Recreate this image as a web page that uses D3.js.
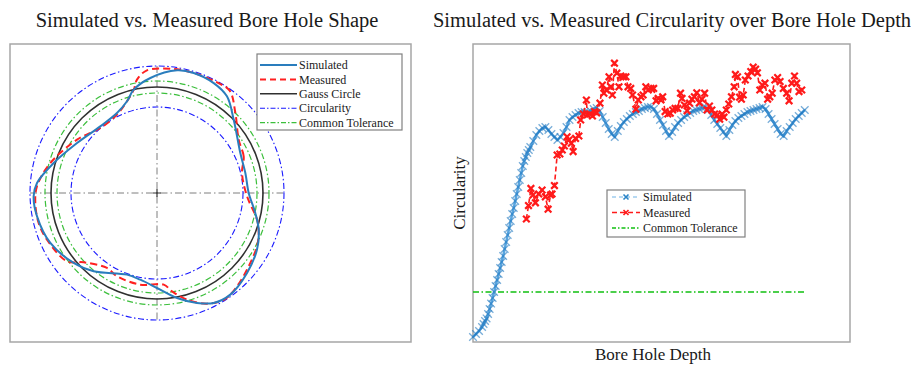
<!DOCTYPE html>
<html>
<head>
<meta charset="utf-8">
<script src="https://cdn.jsdelivr.net/npm/d3@7"></script>
<style>
  body { margin: 0; background: #fff; }
  text { font-family: "Liberation Serif", "Times New Roman", serif; fill: #1a1a1a; }
</style>
</head>
<body>
<svg id="chart" width="911" height="365"></svg>
<script>
// ---- bore hole shape (polar profile, angle in deg ccw from +x) ----
const simAngles = [0, 12.8, 25.6, 43.7, 54.1, 62.7, 73, 80.7, 93.3, 102.7, 108.1, 116.6, 130.4, 148, 163.8, 175.2,
  181.5, 191, 205.1, 220, 231, 249.8, 259.1, 270, 280.8, 290, 297.3, 305.8, 318.4, 330.5, 340.2, 348.5];
const simRadii = [91.7, 90.6, 92.4, 106.1, 119.3, 123.7, 125.5, 124.3, 115.2, 105.9, 96.5, 89.4, 87.5, 94.3, 107.6, 120.4,
  123.4, 122.2, 117.8, 108.8, 100.7, 87, 88.3, 95, 106.9, 117, 123.7, 125.3, 120.4, 114.9, 108.1, 100.3];
const measAngles = [13.2, 22.9, 33.1, 45.6, 54.6, 61.7, 73, 82.3, 94.7, 100, 102.7, 108.1, 117, 131, 146.3, 164.3,
  176.8, 184.7, 194.2, 203, 217.2, 223.4, 236.3, 244.4, 259.7, 274.2, 278.7, 285.7, 294.3, 302.9, 310.6, 321.3,
  331.9, 338.5, 345.1, 357.9];
const measRadii = [87.3, 94.1, 97.5, 112, 125.5, 125.8, 125.5, 125.1, 123.1, 115.1, 105.9, 96.5, 88, 86.2, 96.1, 110.8,
  120.2, 122.1, 122.1, 119.5, 113, 100.9, 90.1, 92.4, 93.2, 91.9, 99.5, 110.8, 121.4, 126, 122.9, 117.4,
  113.3, 109.3, 103.5, 90.1];
const gaussRadius = 106;
const circularityRadii = [86, 127];
const toleranceRadii = [100, 112];
const shapeLegend = ["Simulated", "Measured", "Gauss Circle", "Circularity", "Common Tolerance"];

// ---- circularity over bore hole depth ----
const simDepth = [0, 1, 2, 3, 3.5, 4, 4.5, 5, 5.5, 6, 6.5, 7, 7.5, 8, 8.5, 9, 9.5, 10, 10.5, 11, 11.5,
  12, 12.5, 13, 13.5, 14, 14.5, 15, 15.5, 16, 16.5, 17, 17.5, 18, 18.5, 19, 20, 21, 22, 23, 24,
  25, 26, 27, 28, 29, 30, 31, 32, 33, 34, 35, 36, 37, 38, 39, 40, 41, 42, 43, 44, 45, 46, 47, 48,
  49, 50, 51, 52, 53, 54, 55, 56, 57, 58, 59, 60, 61, 62, 63, 64, 65, 66, 67, 68, 69, 70, 71, 72,
  73, 74, 75, 76, 77, 78, 79, 80, 81, 82, 83, 84, 85, 86, 87, 88, 89, 90, 91, 92, 93, 94, 95, 96,
  97, 98, 99, 100, 101, 102, 103, 104, 105, 106, 107, 108, 109, 110];
const simCirc = [1.25, 2, 2.75, 3.75, 4.5, 5.25, 5.9, 7, 8.25, 9.6, 11, 12.5, 14, 15.5, 17, 18.5, 20, 21.5, 23.25, 25, 26.75,
  28.5, 30.25, 32, 33.5, 35.25, 37, 38.75, 40.5, 42.25, 44, 45.25, 46.25, 47.25, 48, 48.75, 50.25, 51.75, 52.75, 53.5, 53.75,
  53, 52, 51.25, 50.5, 51.25, 52.25, 53.75, 55.5, 56.25, 56.75, 57.25, 57.5, 57.5, 57.5, 57.75, 58.25, 58.5, 57.75, 56.25, 54.75, 53.25, 52, 51.25, 52.75,
  54, 55, 55.75, 56.5, 57, 57.5, 57.75, 58.25, 58.5, 58.75, 58.75, 58.25, 57, 55.5, 54.25, 52.75, 51.5, 52.5, 53.75, 54.75, 55.5, 56.25, 56.75, 57.25,
  57.75, 58, 58.25, 58.5, 58.75, 58, 56.75, 55.5, 54.5, 53.5, 52.5, 51.5, 53, 54.25, 55.25, 56, 56.5, 57, 57.5, 57.75, 58, 58.25, 58.5,
  58.75, 58.25, 57, 55.75, 54.5, 53.25, 52, 51.5, 52.75, 53.75, 54.75, 55.75, 56.5, 57.25, 58];
const measDepth = [17.7, 18.4, 19.2, 19.9, 20.7, 21.8, 22.9, 24, 24.9, 25.7, 26.2, 27, 27.9, 28.8, 29.6, 30.3,
  31.2, 31.8, 32.6, 33.2, 34, 35.1, 35.7, 36.6, 37.6, 37.9, 38.8, 39.6, 40.3, 41, 42.1, 42.9,
  43.4, 44.2, 45.1, 45.7, 46.2, 46.9, 47.7, 48.4, 49, 49.9, 50.7, 51.4, 52.3, 52.9, 54, 54.8,
  55.7, 56.4, 57.3, 58.1, 59, 59.9, 60.7, 61.4, 62.3, 62.9, 63.7, 64.6, 65.4, 66.2, 67, 67.9,
  68.8, 69.3, 70.1, 71, 71.8, 72.6, 73.4, 74.2, 75.1, 75.9, 76.8, 77.6, 78.4, 79.2, 80.1, 81,
  81.8, 82.6, 83.2, 84, 84.8, 85.7, 86.6, 87, 87.7, 88.4, 89, 89.6, 90.3, 91.2, 92.1, 92.9,
  93.7, 94.3, 95.1, 95.9, 96.8, 97.7, 98.4, 99.2, 100.1, 101, 101.8, 102.9, 104, 104.8, 105.7, 106.6,
  107.3, 108.1, 109];
const measCirc = [30.75, 34.1, 38.4, 36.75, 34.8, 37, 38, 36.3, 33.2, 36.75, 37, 39.1, 46.75, 47, 48, 49,
  51.3, 50.5, 49.7, 47.6, 50.9, 51.5, 55.5, 57, 60.5, 56.75, 57, 56.5, 57.6, 57.3, 59.7, 64.25,
  62.2, 63, 66.3, 63.8, 61.75, 69.7, 67.2, 63.8, 66.5, 66.3, 66.3, 63.8, 63.4, 61.75, 58.2, 60.5,
  61.3, 61.75, 63.8, 63, 63.4, 63.4, 60.3, 60.9, 60.5, 61.3, 57.6, 57, 57.2, 58, 58.4, 58.4,
  62.2, 60.9, 59.25, 57.8, 59.7, 60.7, 61.3, 62.3, 59.8, 60.7, 62.2, 58, 59, 58, 57, 56.75,
  55.7, 57, 56.2, 58, 59.5, 61.3, 63.8, 66.9, 66.3, 61.2, 60.7, 61.75, 65.5, 66.5, 67.6, 68.7,
  68.2, 67.3, 63, 64.25, 64.7, 60.7, 61.3, 62.2, 65.5, 66.1, 65.1, 63.4, 62.2, 60.3, 64.7, 66.5,
  64.7, 62.6, 63];
const toleranceLevel = 12.5;
const toleranceDepth = [0, 110];
const depthLegend = ["Simulated", "Measured", "Common Tolerance"];

const svg = d3.select("#chart");
const rad = d => d * Math.PI / 180;

// ======== LEFT: bore hole shape ========
const left = { x0: 10, y0: 44, x1: 411, y1: 342, cx: 157, cy: 193 };

svg.append("text")
  .attr("x", 207).attr("y", 27)
  .attr("text-anchor", "middle")
  .style("font-size", "20.5px")
  .text("Simulated vs. Measured Bore Hole Shape");

svg.append("rect")
  .attr("x", left.x0).attr("y", left.y0)
  .attr("width", left.x1 - left.x0).attr("height", left.y1 - left.y0)
  .attr("fill", "#fff").attr("stroke", "#a6a6a6").attr("stroke-width", 1.5);

const rScale = d3.scaleLinear().domain([0, 127]).range([0, 127]);
const polar = svg.append("g").attr("transform", `translate(${left.cx},${left.cy})`);

// cross hair
const rMax = rScale(d3.max(circularityRadii));
polar.append("line").attr("x1", -rMax).attr("x2", rMax).attr("y1", 0).attr("y2", 0)
  .attr("stroke", "#7f7f7f").attr("stroke-dasharray", "7,3,1.5,3");
polar.append("line").attr("y1", -rMax).attr("y2", rMax).attr("x1", 0).attr("x2", 0)
  .attr("stroke", "#7f7f7f").attr("stroke-dasharray", "7,3,1.5,3");
polar.append("path").attr("d", "M-4,0H4M0,-4V4").attr("stroke", "#333").attr("stroke-width", 1.2);

polar.selectAll(".circ").data(circularityRadii).enter().append("circle")
  .attr("class", "circ").attr("r", d => rScale(d)).attr("fill", "none")
  .attr("stroke", "#1a1aff").attr("stroke-width", 1.1).attr("stroke-dasharray", "6,2.5,1.5,2.5");

polar.selectAll(".tol").data(toleranceRadii).enter().append("circle")
  .attr("class", "tol").attr("r", d => rScale(d)).attr("fill", "none")
  .attr("stroke", "#3cbf3c").attr("stroke-width", 1.2).attr("stroke-dasharray", "6,2.5,1.5,2.5");

polar.append("circle").attr("r", rScale(gaussRadius)).attr("fill", "none")
  .attr("stroke", "#303030").attr("stroke-width", 1.6);

const radial = d3.lineRadial()
  .angle(d => rad(90 - d[0]))
  .radius(d => rScale(d[1]))
  .curve(d3.curveCatmullRomClosed.alpha(0.5));

polar.append("path")
  .attr("d", radial(d3.zip(measAngles, measRadii)))
  .attr("fill", "none").attr("stroke", "#ff2020").attr("stroke-width", 2)
  .attr("stroke-dasharray", "7,4");

polar.append("path")
  .attr("d", radial(d3.zip(simAngles, simRadii)))
  .attr("fill", "none").attr("stroke", "#2a7dbd").attr("stroke-width", 2);

// legend
const lg = svg.append("g");
lg.append("rect").attr("x", 257).attr("y", 54).attr("width", 145).attr("height", 76)
  .attr("fill", "#fff").attr("stroke", "#808080").attr("stroke-width", 1.2);
const lgStyles = [
  { c: "#2a7dbd", w: 2, dash: null },
  { c: "#ff2020", w: 2, dash: "6,4" },
  { c: "#303030", w: 1.6, dash: null },
  { c: "#1a1aff", w: 1.1, dash: "5,2,1.5,2" },
  { c: "#3cbf3c", w: 1.2, dash: "5,2,1.5,2" }
];
const lgItems = lg.selectAll(".item").data(shapeLegend).enter().append("g")
  .attr("transform", (d, i) => `translate(0,${65 + i * 14.4})`);
lgItems.append("line").attr("x1", 260).attr("x2", 297)
  .attr("stroke", (d, i) => lgStyles[i].c).attr("stroke-width", (d, i) => lgStyles[i].w)
  .attr("stroke-dasharray", (d, i) => lgStyles[i].dash);
lgItems.append("text").attr("x", 299).attr("dy", "0.35em").style("font-size", "12px").text(d => d);

// ======== RIGHT: circularity over depth ========
const x = d3.scaleLinear().domain([0, 125]).range([473, 850]);
const y = d3.scaleLinear().domain([0, 74.5]).range([342, 44]);

svg.append("text")
  .attr("x", 672).attr("y", 27)
  .attr("text-anchor", "middle")
  .style("font-size", "20.5px")
  .text("Simulated vs. Measured Circularity over Bore Hole Depth");

svg.append("rect")
  .attr("x", x(0)).attr("y", y(74.5))
  .attr("width", x(125) - x(0)).attr("height", y(0) - y(74.5))
  .attr("fill", "#fff").attr("stroke", "#a6a6a6").attr("stroke-width", 1.5);

svg.append("text")
  .attr("transform", `translate(465,${(y(0) + y(74.5)) / 2}) rotate(-90)`)
  .attr("text-anchor", "middle")
  .style("font-size", "17px")
  .text("Circularity");

svg.append("text")
  .attr("x", 653).attr("y", 360)
  .attr("text-anchor", "middle")
  .style("font-size", "17px")
  .text("Bore Hole Depth");

const xMark = s => `M${-s},${-s}L${s},${s}M${-s},${s}L${s},${-s}`;

// tolerance
svg.append("line")
  .attr("x1", x(toleranceDepth[0])).attr("x2", x(toleranceDepth[1]))
  .attr("y1", y(toleranceLevel)).attr("y2", y(toleranceLevel))
  .attr("stroke", "#10c010").attr("stroke-width", 1.6).attr("stroke-dasharray", "6,2.5,1.5,2.5");

// simulated
const simPts = d3.zip(simDepth, simCirc);
svg.append("path")
  .attr("d", d3.line().x(d => x(d[0])).y(d => y(d[1]))(simPts))
  .attr("fill", "none").attr("stroke", "#5aa6e0").attr("stroke-width", 2.5);
svg.append("g").selectAll("path").data(simPts).enter().append("path")
  .attr("transform", d => `translate(${x(d[0])},${y(d[1])})`)
  .attr("d", xMark(3.8))
  .attr("stroke", "#1f78c0").attr("stroke-opacity", 0.6).attr("stroke-width", 1.3);

// measured
const measPts = d3.zip(measDepth, measCirc);
svg.append("path")
  .attr("d", d3.line().x(d => x(d[0])).y(d => y(d[1]))(measPts))
  .attr("fill", "none").attr("stroke", "#ff1a1a").attr("stroke-width", 1.6)
  .attr("stroke-dasharray", "5,3");
svg.append("g").selectAll("path").data(measPts).enter().append("path")
  .attr("transform", d => `translate(${x(d[0])},${y(d[1])})`)
  .attr("d", xMark(3.3))
  .attr("stroke", "#ff1a1a").attr("stroke-width", 2.2);

// legend
const rl = svg.append("g");
rl.append("rect").attr("x", 607).attr("y", 190).attr("width", 138).attr("height", 47)
  .attr("fill", "#fff").attr("stroke", "#808080").attr("stroke-width", 1.2);
const rlStyles = [
  { c: "#6fb3e6", m: "#2a85c8", w: 1, dash: "4,3" },
  { c: "#ff1a1a", m: "#ff1a1a", w: 1.6, dash: "5,3" },
  { c: "#10c010", m: null, w: 1.6, dash: "4,2,1.5,2" }
];
const rlItems = rl.selectAll(".item").data(depthLegend).enter().append("g")
  .attr("transform", (d, i) => `translate(0,${197 + i * 15.5})`);
rlItems.append("line").attr("x1", 612).attr("x2", 640)
  .attr("stroke", (d, i) => rlStyles[i].c).attr("stroke-width", (d, i) => rlStyles[i].w)
  .attr("stroke-dasharray", (d, i) => rlStyles[i].dash);
rlItems.filter((d, i) => rlStyles[i].m).append("path")
  .attr("transform", "translate(626,0)")
  .attr("d", xMark(2.5))
  .attr("stroke", (d, i) => rlStyles[i].m).attr("stroke-width", 1.6);
rlItems.append("text").attr("x", 643).attr("dy", "0.35em").style("font-size", "12px").text(d => d);
</script>
</body>
</html>
